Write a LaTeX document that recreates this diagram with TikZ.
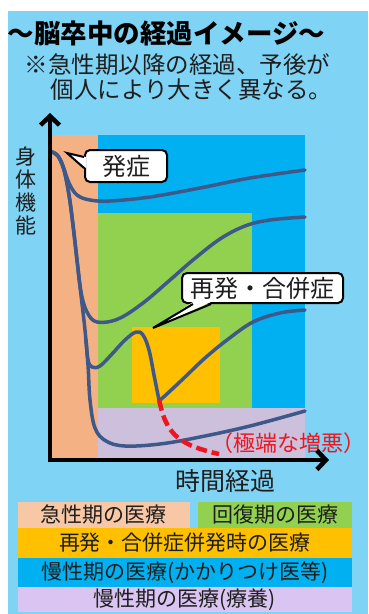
\documentclass[tikz,border=0pt]{standalone}
\usepackage{fontspec}
\setmainfont{Noto Sans CJK JP}
\usetikzlibrary{arrows.meta,calc}
\definecolor{bgblue}{HTML}{7FD3F5}
\definecolor{acute}{HTML}{F4B183}
\definecolor{chronic}{HTML}{00B0F0}
\definecolor{recov}{HTML}{92D050}
\definecolor{recur}{HTML}{FFC000}
\definecolor{care}{HTML}{CCC0DC}
\definecolor{curvec}{HTML}{3D5889}
\definecolor{txt}{HTML}{1E1E1E}
\definecolor{legpeach}{HTML}{F8C8A6}
\definecolor{leglav}{HTML}{DAC4F2}
\definecolor{worsered}{HTML}{F0141E}
\begin{document}
\begin{tikzpicture}[x=1pt,y=-1pt,
  curveline/.style={draw=curvec,line width=3.5pt,line cap=round,line join=round},
  axisline/.style={draw=black,line width=4.5pt,-{Straight Barb[length=9pt,width=19pt]}},
  callout/.style={draw=black,line width=2pt,fill=white,rounded corners=5pt,inner sep=0pt,font=\fontsize{24}{28}\selectfont,text=txt},
  legbox/.style={inner sep=0pt,font=\fontsize{21}{24}\selectfont,text=txt},
  pointerfill/.style={fill=white},
  pointerline/.style={draw=black,line width=2pt,line join=miter},
]
\useasboundingbox (0,0) rectangle (368,614);
\fill[white] (0,0) rectangle (368,614);
\fill[bgblue] (8,11) rectangle (368,614);

% title
\node[anchor=west,font=\fontsize{26.5}{30}\selectfont\bfseries,text=black] (title) at (4,33) {～脳卒中の経過イメージ～};
\node[anchor=west,font=\fontsize{23.5}{28}\selectfont,text=txt] (sub1) at (21,65) {※急性期以降の経過、予後が};
\node[anchor=west,font=\fontsize{23.5}{28}\selectfont,text=txt] (sub2) at (47,90) {個人により大きく異なる。};

% regions
\fill[acute] (50,135) rectangle (98,458);
\fill[chronic] (98,135) rectangle (305,408);
\fill[recov] (98,213) rectangle (252,408);
\fill[recur] (132,327) rectangle (220,403);
\fill[care] (98,408) rectangle (305,458);

% curves
\draw[curveline] plot[smooth,tension=0.6] coordinates {(52,152) (58,156) (63,166) (69,183) (77,195) (90,200) (110,201) (150,197) (200,188) (250,178) (305,170)};
\draw[curveline] plot[smooth,tension=0.6] coordinates {(52,152) (58,156) (64,170) (69,195) (73,225) (77,260) (81,292) (87,312) (97,322) (118,319) (143,303) (170,280) (193,260) (220,239) (245,226) (270,220) (305,217)};
\draw[curveline] plot[smooth,tension=0.6] coordinates {(52,152) (58,156) (64,170) (69,195) (73,225) (77,260) (81,295) (85,330) (88,365) (90,400) (95,428) (106,441) (125,446) (160,444) (200,437) (250,426) (305,411)};
\draw[curveline] plot[smooth,tension=0.6] coordinates {(86,340) (88,360) (92,367) (100,366) (112,354) (125,340) (136,332) (143,335) (149,350) (154,375) (159,400)};
\draw[curveline] plot[smooth,tension=0.6] coordinates {(159,401) (168,393) (185,377) (205,358) (227,340) (253,322) (280,313) (305,310)};
\draw[worsered,line width=4.5pt,dash pattern=on 11pt off 5pt] plot[smooth,tension=0.6] coordinates {(159,400) (165,420) (175,435) (190,445) (207,451) (219,454)};

% labels
\node[text=worsered,font=\fontsize{22}{24}\selectfont] (worse) at (288,443) {（極端な増悪）};
\node[align=center,font=\fontsize{21}{23}\selectfont,text=txt] (ylab) at (26,191) {身\\体\\機\\能};
\node[font=\fontsize{25}{30}\selectfont,text=txt] (xlab) at (225,481) {時間経過};

% axes
\coordinate (origin) at (50,460);
\coordinate (ytip) at (50,113);
\coordinate (xtip) at (329,460);
\coordinate (ybot) at (50,462.25);
\coordinate (xleft) at (47.75,460);
\draw[axisline] (ybot) -- (ytip);
\draw[axisline] (xleft) -- (xtip);

% callouts
\node[callout,minimum width=82pt,minimum height=32pt] (onset) at (126,166) {発症};
\coordinate (onsettip) at (67,153);
\fill[pointerfill] ($(onset.west)+(2,-9)$) -- (onsettip) -- ($(onset.west)+(2,2)$) -- cycle;
\draw[pointerline] ($(onset.west)+(0,-9)$) -- (onsettip) -- ($(onset.west)+(0,2)$);

\node[callout,minimum width=161pt,minimum height=30pt] (recurr) at (262.5,288) {再発・合併症};
\coordinate (recurtip) at (153,328);
\fill[pointerfill] ($(recurr.south)+(-69.5,-2)$) -- (recurtip) -- ($(recurr.south)+(-51.5,-2)$) -- cycle;
\draw[pointerline] ($(recurr.south)+(-69.5,0)$) -- (recurtip) -- ($(recurr.south)+(-51.5,0)$);

% legend
\node[legbox,fill=legpeach,minimum width=172pt,minimum height=26pt] (lg1) at (104,515) {急性期の医療};
\node[legbox,fill=recov,minimum width=154pt,minimum height=26pt] (lg2) at (275,515) {回復期の医療};
\node[legbox,fill=recur,minimum width=334pt,minimum height=30pt] (lg3) at (185,543) {再発・合併症併発時の医療};
\node[legbox,fill=chronic,minimum width=334pt,minimum height=29pt] (lg4) at (185,572.5) {慢性期の医療(かかりつけ医等)};
\node[legbox,fill=leglav,minimum width=334pt,minimum height=25pt] (lg5) at (185,599.5) {慢性期の医療(療養)};
\end{tikzpicture}
\end{document}
